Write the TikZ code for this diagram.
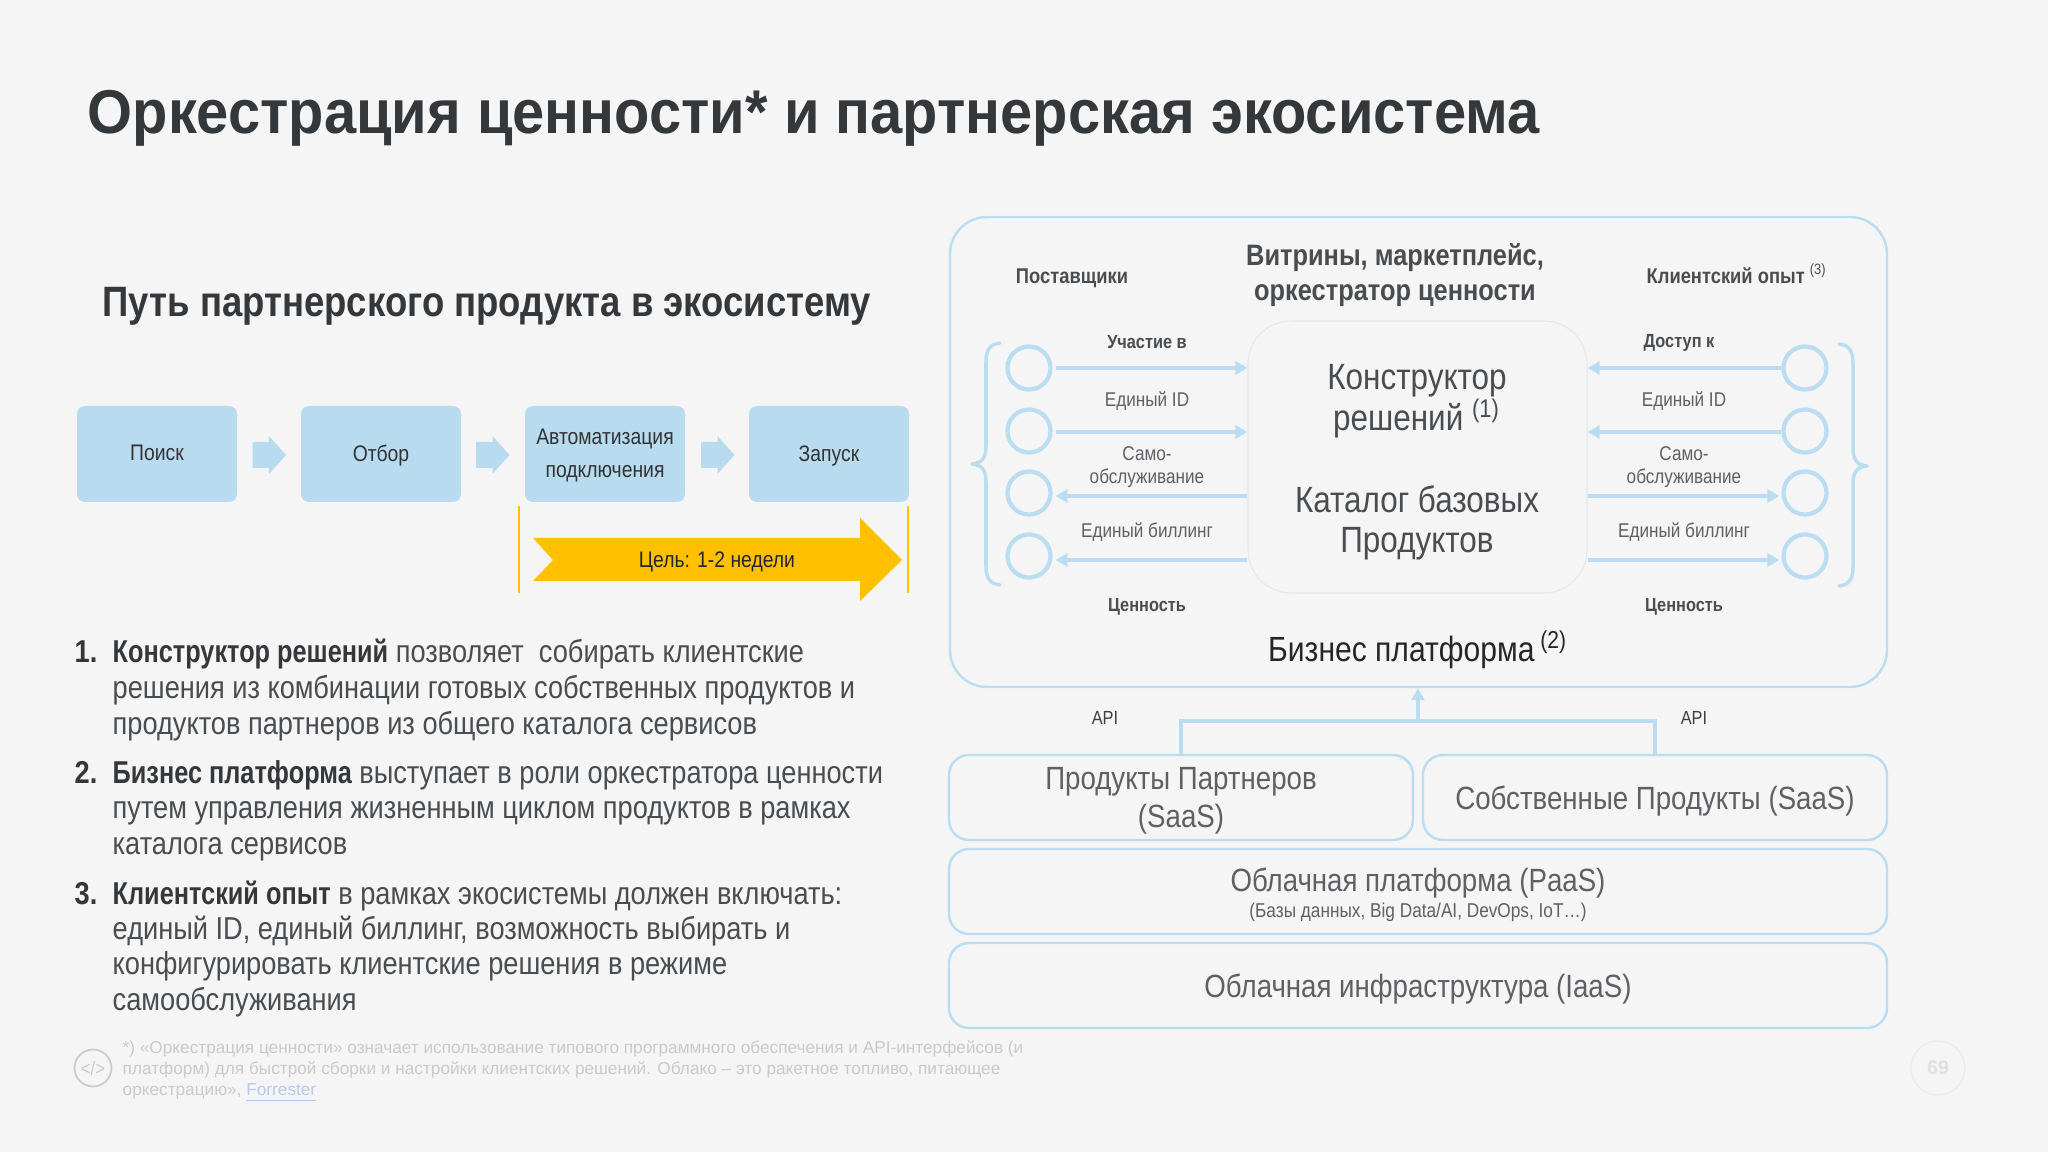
\documentclass[tikz,border=0pt]{standalone}
\usepackage{xcolor}
\usepackage{fontspec}
\usepackage{tikz}
\usetikzlibrary{arrows.meta}
\setmainfont[FakeStretch=0.86]{Liberation Sans}
\newfontfamily\noteFont{Liberation Sans}
\newfontfamily\titleFont[FakeStretch=0.935]{Liberation Sans}
\newfontfamily\leadFont[FakeStretch=0.80]{Liberation Sans}
\definecolor{pageGrey}{HTML}{F5F5F5}
\definecolor{stepBlue}{HTML}{B8DBF0}
\definecolor{lineBlue}{HTML}{BBDDF2}
\definecolor{coreLine}{HTML}{E4E8EB}
\definecolor{titleInk}{HTML}{35383B}
\definecolor{bodyInk}{HTML}{4A4D50}
\definecolor{softInk}{HTML}{5E6063}
\definecolor{goalYellow}{HTML}{FFC000}
\definecolor{noteGrey}{HTML}{CACACA}
\definecolor{linkBlue}{HTML}{B4CBEE}
\tikzset{
	stepbox/.style = {fill = stepBlue, rounded corners = 0.08cm, minimum width = 1.60cm, minimum height = 0.96cm, inner sep = 0pt},
	steptext/.style = {text = black!80, font = \fontsize{6.4pt}{9.4pt}\selectfont, align = center, inner sep = 0pt},
	layerbox/.style = {draw = lineBlue, line width = 0.7pt, rounded corners = 0.2cm, minimum height = 0.85cm, inner sep = 0pt},
	layertext/.style = {text = softInk, font = \fontsize{9.15pt}{10.7pt}\selectfont, align = center, inner sep = 0pt},
	portcircle/.style = {circle, draw = lineBlue, line width = 1.2pt, minimum size = 0.43cm, inner sep = 0pt},
	flow/.style = {draw = lineBlue, line width = 1.1pt, -{Triangle[length = 0.12cm, width = 0.13cm]}},
	bracket/.style = {draw = lineBlue, line width = 1pt, line cap = round, line join = round},
	headlabel/.style = {text = bodyInk, font = \fontsize{6.07pt}{7pt}\selectfont\bfseries, inner sep = 0pt},
	minilabel/.style = {text = bodyInk, font = \fontsize{5.4pt}{6.2pt}\selectfont\bfseries, inner sep = 0pt},
	thinlabel/.style = {text = softInk, font = \fontsize{5.67pt}{6.4pt}\selectfont, align = center, inner sep = 0pt},
	corelabel/.style = {text = bodyInk, font = \fontsize{10.4pt}{11.6pt}\selectfont, align = center, inner sep = 0pt},
	listline/.style = {anchor = base west, text = bodyInk, font = \fontsize{9pt}{10pt}\selectfont, inner sep = 0pt},
	listnum/.style = {listline, text = titleInk, font = \fontsize{9pt}{10pt}\selectfont\bfseries},
}
\newcommand{\stepBox}[4]{
	\node[stepbox] (#1) at (#2, #3) {};
	\node[steptext] (#1Text) at ([yshift = -0.015cm]#1.center) {\vphantom{Пр}#4};
}
\newcommand{\stepArrow}[1]{
	\fill[stepBlue] (#1, -4.42) -- ++(0.165, 0) -- ++(0, 0.06) -- ++(0.17, -0.19) -- ++(-0.17, -0.19) -- ++(0, 0.06) -- ++(-0.165, 0) -- cycle;
}
\newcommand{\listLine}[3]{
	\node[listline] (#1) at (1.12, #2) {#3};
}
\newcommand{\leadIn}[1]{\textcolor{titleInk}{\bfseries\leadFont #1}}
\begin{document}
\begin{tikzpicture}%

		\useasboundingbox (0, 0) rectangle (20.48, -11.52);
		\fill[pageGrey] (0, 0) rectangle (20.48, -11.52);

		% headings
		\node[anchor = base west, inner sep = 0pt, text = titleInk, font = \fontsize{17.6pt}{20pt}\selectfont\bfseries\titleFont] (mainTitle) at (0.87, -1.335) {Оркестрация ценности* и партнерская экосистема};
		\node[anchor = base west, inner sep = 0pt, text = titleInk, font = \fontsize{12.08pt}{13pt}\selectfont\bfseries] (pathTitle) at (1.02, -3.17) {Путь партнерского продукта в экосистему};

		% steps
		\stepBox{stepSearch}{1.57}{-4.54}{Поиск}
		\stepBox{stepPick}{3.81}{-4.54}{Отбор}
		\stepBox{stepAuto}{6.05}{-4.54}{Автоматизация\\подключения}
		\stepBox{stepRun}{8.29}{-4.54}{Запуск}
		\stepArrow{2.525}
		\stepArrow{4.76}
		\stepArrow{7.01}

		% goal
		\coordinate (goalLeft) at (5.19, -5.06);
		\coordinate (goalRight) at (9.08, -5.06);
		\draw[goalYellow, line width = 0.3pt] (goalLeft) -- ++(0, -0.87);
		\draw[goalYellow, line width = 0.3pt] (goalRight) -- ++(0, -0.87);
		\fill[goalYellow] (5.33, -5.38) -- (8.60, -5.38) -- (8.60, -5.18) -- (9.02, -5.60) -- (8.60, -6.01) -- (8.60, -5.81) -- (5.33, -5.81) -- (5.53, -5.60) -- cycle;
		\node[text = black!85, font = \fontsize{6.4pt}{7pt}\selectfont, inner sep = 0pt] (goalText) at (7.17, -5.62) {Цель: 1-2 недели};

		% list
		\node[listnum] (numOne) at (0.74, -6.63) {1.};
		\listLine{itemOneA}{-6.63}{\leadIn{Конструктор решений} позволяет\ \ собирать клиентские}
		\listLine{itemOneB}{-6.99}{решения из комбинации готовых собственных продуктов и}
		\listLine{itemOneC}{-7.35}{продуктов партнеров из общего каталога сервисов}
		\node[listnum] (numTwo) at (0.74, -7.83) {2.};
		\listLine{itemTwoA}{-7.83}{\leadIn{Бизнес платформа} выступает в роли оркестратора ценности}
		\listLine{itemTwoB}{-8.19}{путем управления жизненным циклом продуктов в рамках}
		\listLine{itemTwoC}{-8.54}{каталога сервисов}
		\node[listnum] (numThree) at (0.74, -9.04) {3.};
		\listLine{itemThreeA}{-9.04}{\leadIn{Клиентский опыт} в рамках экосистемы должен включать:}
		\listLine{itemThreeB}{-9.39}{единый ID, единый биллинг, возможность выбирать и}
		\listLine{itemThreeC}{-9.74}{конфигурировать клиентские решения в режиме}
		\listLine{itemThreeD}{-10.10}{самообслуживания}

		% platform panel
		\node[draw = lineBlue, line width = 0.7pt, rounded corners = 0.37cm, minimum width = 9.37cm, minimum height = 4.70cm, inner sep = 0pt] (platform) at (14.185, -4.52) {};
		\node[draw = coreLine, line width = 0.3pt, rounded corners = 0.43cm, minimum width = 3.39cm, minimum height = 2.72cm, inner sep = 0pt] (core) at (14.175, -4.57) {};

		\node[headlabel] (suppliers) at (10.72, -2.78) {Поставщики};
		\node[headlabel, align = center, font = \fontsize{8.4pt}{10pt}\selectfont\bfseries] (vitrine) at (13.95, -2.75) {Витрины, маркетплейс,\\оркестратор ценности};
		\node[headlabel] (clients) at (17.37, -2.74) {Клиентский опыт \textmd{\textsuperscript{(3)}}};

		\node[corelabel] (builder) at (14.17, -4.01) {Конструктор\\решений \textsuperscript{(1)}};
		\node[corelabel] (catalog) at (14.17, -5.23) {Каталог базовых\\Продуктов};
		\node[corelabel, text = black!85, font = \fontsize{9.95pt}{11.6pt}\selectfont] (bizPlatform) at (14.18, -6.50) {Бизнес платформа\,\textsuperscript{(2)}};

		% suppliers side
		\node[portcircle] (supA) at (10.29, -3.68) {};
		\node[portcircle] (supB) at (10.29, -4.31) {};
		\node[portcircle] (supC) at (10.29, -4.93) {};
		\node[portcircle] (supD) at (10.29, -5.56) {};
		\path (supA.east) ++(0.03, 0) coordinate (supAout);
		\draw[flow] (supAout) -- (supAout -| core.west);
		\path (supB.east) ++(0.03, -0.01) coordinate (supBout);
		\draw[flow] (supBout) -- (supBout -| core.west);
		\path (supC.east) ++(0.03, -0.03) coordinate (supCin);
		\draw[flow] (supCin -| core.west) -- (supCin);
		\path (supD.east) ++(0.03, -0.04) coordinate (supDin);
		\draw[flow] (supDin -| core.west) -- (supDin);
		\draw[bracket] (10.00, -3.43) .. controls (9.90, -3.44) and (9.86, -3.50) .. (9.86, -3.62) -- (9.86, -4.46) .. controls (9.86, -4.58) and (9.82, -4.63) .. (9.72, -4.64) .. controls (9.82, -4.65) and (9.86, -4.70) .. (9.86, -4.82) -- (9.86, -5.66) .. controls (9.86, -5.78) and (9.90, -5.84) .. (10.00, -5.85);

		\node[minilabel] (joinIn) at (11.47, -3.42) {Участие в};
		\node[thinlabel] (supId) at (11.47, -4.01) {Единый ID};
		\node[thinlabel] (supSelf) at (11.47, -4.67) {Само-\\обслуживание};
		\node[thinlabel] (supBill) at (11.47, -5.32) {Единый биллинг};
		\node[minilabel] (supValue) at (11.47, -6.07) {Ценность};

		% clients side
		\node[portcircle] (cliA) at (18.05, -3.68) {};
		\node[portcircle] (cliB) at (18.05, -4.31) {};
		\node[portcircle] (cliC) at (18.05, -4.93) {};
		\node[portcircle] (cliD) at (18.05, -5.56) {};
		\draw[flow] (cliA.west) -- (cliA.west -| core.east);
		\path (cliB.west) ++(0, -0.01) coordinate (cliBout);
		\draw[flow] (cliBout) -- (cliBout -| core.east);
		\path (cliC.west) ++(-0.02, -0.03) coordinate (cliCin);
		\draw[flow] (cliCin -| core.east) -- (cliCin);
		\path (cliD.west) ++(-0.02, -0.04) coordinate (cliDin);
		\draw[flow] (cliDin -| core.east) -- (cliDin);
		\draw[bracket] (18.39, -3.44) .. controls (18.49, -3.45) and (18.53, -3.51) .. (18.53, -3.63) -- (18.53, -4.48) .. controls (18.53, -4.60) and (18.57, -4.65) .. (18.67, -4.66) .. controls (18.57, -4.67) and (18.53, -4.72) .. (18.53, -4.84) -- (18.53, -5.67) .. controls (18.53, -5.79) and (18.49, -5.85) .. (18.39, -5.86);

		\node[minilabel] (accessTo) at (16.79, -3.43) {Доступ к};
		\node[thinlabel] (cliId) at (16.84, -4.01) {Единый ID};
		\node[thinlabel] (cliSelf) at (16.84, -4.67) {Само-\\обслуживание};
		\node[thinlabel] (cliBill) at (16.84, -5.32) {Единый биллинг};
		\node[minilabel] (cliValue) at (16.84, -6.07) {Ценность};

		% layers
		\node[layerbox, minimum width = 4.64cm] (partnerSaas) at (11.81, -7.975) {};
		\node[layerbox, minimum width = 4.64cm] (ownSaas) at (16.55, -7.975) {};
		\node[layerbox, minimum width = 9.38cm] (paas) at (14.18, -8.915) {};
		\node[layerbox, minimum width = 9.38cm] (iaas) at (14.18, -9.855) {};
		\node[layertext] (partnerText) at (11.81, -8.01) {Продукты Партнеров\\(SaaS)};
		\node[layertext] (ownText) at (16.55, -8.01) {Собственные Продукты (SaaS)};
		\node[layertext] (paasText) at (14.18, -8.83) {Облачная платформа (PaaS)};
		\node[text = softInk, font = \fontsize{5.7pt}{6pt}\selectfont, inner sep = 0pt] (paasNote) at (14.18, -9.12) {(Базы данных, Big Data/AI, DevOps, IoT…)};
		\node[layertext] (iaasText) at (14.18, -9.89) {Облачная инфраструктура (IaaS)};

		% api links
		\node[text = black!75, font = \fontsize{5.4pt}{6pt}\selectfont, inner sep = 0pt] (apiLeft) at (11.05, -7.18) {API};
		\node[text = black!75, font = \fontsize{5.4pt}{6pt}\selectfont, inner sep = 0pt] (apiRight) at (16.94, -7.18) {API};
		\coordinate (apiJoin) at (14.18, -7.21);
		\draw[lineBlue, line width = 0.9pt] (partnerSaas.north) -- (partnerSaas.north |- apiJoin) -- (ownSaas.north |- apiJoin) -- (ownSaas.north);
		\draw[flow] (apiJoin) -- (platform.south -| apiJoin);

		% footnote
		\node[circle, draw = noteGrey, line width = 0.5pt, minimum size = 0.37cm, inner sep = 0pt, text = noteGrey, font = \fontsize{5.6pt}{6pt}\selectfont] (noteIcon) at (0.93, -10.68) {</>};
		\node[anchor = west, inner sep = 0pt, align = left, text = noteGrey, font = \fontsize{4.9pt}{5.95pt}\selectfont\noteFont] (noteText) at (1.22, -10.72) {*) «Оркестрация ценности» означает использование типового программного обеспечения и API-интерфейсов (и\\платформ) для быстрой сборки и настройки клиентских решений. Облако – это ракетное топливо, питающее\\оркестрацию», \textcolor{linkBlue}{\underline{Forrester}}};

		% page number
		\node[circle, draw = black!8, line width = 0.4pt, minimum size = 0.54cm, inner sep = 0pt, text = black!12, font = \fontsize{5.6pt}{6pt}\selectfont\bfseries\noteFont] (pageNum) at (19.38, -10.68) {69};

	\end{tikzpicture}
\end{document}
